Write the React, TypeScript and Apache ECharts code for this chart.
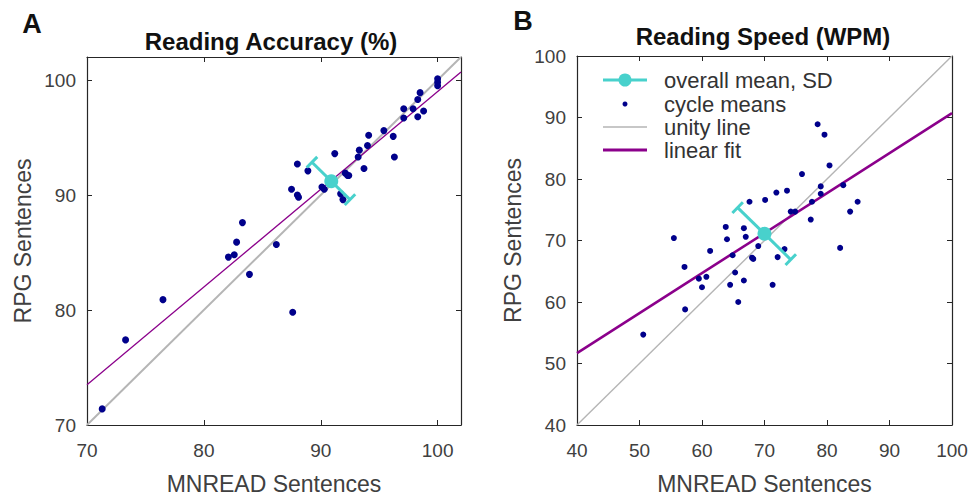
import React, { useEffect, useRef } from 'react';
import * as echarts from 'echarts';

// Panel A: Reading Accuracy (%)
const accMnread = [71.3, 73.3, 76.5, 82.1, 82.6, 82.8, 83.3, 83.9, 86.2, 87.6, 87.5, 88.0, 88.1, 88.0, 88.9, 90.1, 90.3, 91.2, 91.7, 91.9, 92.1, 92.3, 92.4, 93.3, 93.2, 93.7, 94.1, 94.0, 95.4, 96.2, 96.3, 97.1, 97.1, 97.9, 98.3, 98.3, 98.5, 98.8, 100.0, 100.0, 100.0];
const accRpg = [71.4, 77.4, 80.9, 84.6, 84.8, 85.9, 87.6, 83.1, 85.7, 79.8, 90.5, 90.0, 89.8, 92.7, 92.1, 90.7, 90.5, 93.6, 90.1, 89.6, 91.9, 91.7, 91.7, 93.9, 93.3, 92.3, 95.2, 94.3, 95.6, 95.1, 93.3, 97.5, 96.7, 97.5, 98.3, 96.8, 98.9, 97.3, 100.1, 99.8, 99.5];
const accMean = [90.9, 91.2];
const accSdEnds = [89.25, 92.85, 92.5, 89.6];
const accUnity = [[70, 70], [102, 102]];
const accFit = [[70, 73.5], [102, 100.7]];
const accTicks = [70, 80, 90, 100];

// Panel B: Reading Speed (WPM)
const spdMnread = [50.6, 55.5, 57.2, 57.3, 59.5, 60.0, 60.7, 61.3, 63.8, 64.0, 64.9, 65.3, 64.5, 65.8, 66.7, 67.0, 66.7, 67.6, 68.0, 68.2, 69.0, 70.1, 71.3, 71.9, 72.1, 73.2, 73.6, 74.2, 74.9, 76.0, 77.4, 77.6, 78.5, 79.0, 79.0, 79.6, 80.4, 82.1, 82.6, 83.7, 84.9];
const spdRpg = [54.7, 70.4, 65.7, 58.8, 63.8, 62.4, 64.1, 68.3, 72.2, 70.2, 67.6, 64.8, 62.8, 60.0, 72.0, 70.6, 63.5, 76.3, 67.2, 67.0, 69.1, 76.6, 62.8, 77.8, 67.3, 68.6, 78.1, 74.7, 74.7, 80.8, 73.4, 76.3, 88.9, 78.8, 77.6, 87.2, 82.2, 68.8, 79.0, 74.7, 76.3];
const spdMean = [70.0, 71.1];
const spdSdEnds = [65.7, 75.35, 74.2, 66.9];
const spdUnity = [[40, 40], [100, 100]];
const spdFit = [[40, 51.7], [100, 90.7]];
const spdTicks = [40, 50, 60, 70, 80, 90, 100];

const legendLabels = ['overall mean, SD', 'cycle means', 'unity line', 'linear fit'];

const NAVY = '#00008b';
const CYAN = '#48d1cc';
const GRAY = '#b5b5b5';
const PURPLE = '#8b008b';
const AXIS = '#262626';
const TXT = '#404040';
const FONT = '"Liberation Sans", Arial, Helvetica, sans-serif';

function zip(a: number[], b: number[]) {
  return a.map((v, i) => [v, b[i]]);
}

function errRender(params: any, api: any) {
  const p0 = api.coord([api.value(0), api.value(1)]);
  const p1 = api.coord([api.value(2), api.value(3)]);
  const dx = p1[0] - p0[0];
  const dy = p1[1] - p0[1];
  const len = Math.sqrt(dx * dx + dy * dy) || 1;
  const nx = -dy / len;
  const ny = dx / len;
  const h = 7.5;
  const style = { stroke: CYAN, lineWidth: 3, lineCap: 'butt' };
  return {
    type: 'group',
    children: [
      { type: 'line', shape: { x1: p0[0], y1: p0[1], x2: p1[0], y2: p1[1] }, style },
      { type: 'line', shape: { x1: p0[0] - nx * h, y1: p0[1] - ny * h, x2: p0[0] + nx * h, y2: p0[1] + ny * h }, style },
      { type: 'line', shape: { x1: p1[0] - nx * h, y1: p1[1] - ny * h, x2: p1[0] + nx * h, y2: p1[1] + ny * h }, style },
    ],
  };
}

function mkX(grid: number, min: number, max: number, ticks: number[], top: boolean, name?: string) {
  return {
    type: 'value',
    gridIndex: grid,
    position: top ? 'top' : 'bottom',
    min,
    max,
    interval: 10,
    name: name || '',
    nameLocation: 'middle',
    nameGap: 47,
    nameTextStyle: { fontFamily: FONT, fontSize: 23, color: TXT },
    axisLine: { show: true, onZero: false, lineStyle: { color: AXIS, width: 1.2 } },
    axisTick: { show: true, inside: true, length: 5, lineStyle: { color: AXIS, width: 1 } },
    axisLabel: {
      show: !top,
      margin: 16,
      fontFamily: FONT,
      fontSize: 19,
      color: TXT,
      formatter: (v: number) => (ticks.indexOf(v) >= 0 ? String(v) : ''),
    },
    splitLine: { show: false },
  };
}

function mkY(grid: number, min: number, max: number, ticks: number[], right: boolean, name?: string) {
  return {
    type: 'value',
    gridIndex: grid,
    position: right ? 'right' : 'left',
    min,
    max,
    interval: 10,
    name: name || '',
    nameLocation: 'middle',
    nameGap: 53,
    nameTextStyle: { fontFamily: FONT, fontSize: 23, color: TXT },
    axisLine: { show: true, onZero: false, lineStyle: { color: AXIS, width: 1.2 } },
    axisTick: { show: true, inside: true, length: 5, lineStyle: { color: AXIS, width: 1 } },
    axisLabel: {
      show: !right,
      margin: 11,
      fontFamily: FONT,
      fontSize: 19,
      color: TXT,
      formatter: (v: number) => (ticks.indexOf(v) >= 0 ? String(v) : ''),
    },
    splitLine: { show: false },
  };
}

function txt(text: string, x: number, y: number, size: number, bold: boolean, color: string, align = 'center') {
  return {
    type: 'text',
    x,
    y,
    style: {
      text,
      x: 0,
      y: 0,
      font: `${bold ? 'bold ' : ''}${size}px ${FONT}`,
      fill: color,
      align,
      textAlign: align,
      verticalAlign: 'middle',
      textVerticalAlign: 'middle',
    },
  };
}

export default function App() {
  const ref = useRef<HTMLDivElement>(null);
  useEffect(() => {
    if (!ref.current) return;
    const chart = echarts.init(ref.current, undefined, { renderer: 'svg' });
    const lx1 = 603;
    const lx2 = 647;
    const lmid = 625;
    const rows = [80, 104, 127, 150];
    chart.setOption({
      animation: false,
      backgroundColor: '#ffffff',
      grid: [
        { left: 87, top: 57, width: 374, height: 371 },
        { left: 577, top: 56, width: 375, height: 373 },
      ],
      xAxis: [
        mkX(0, 70, 102, accTicks, false, 'MNREAD Sentences'),
        mkX(0, 70, 102, accTicks, true),
        mkX(1, 40, 100, spdTicks, false, 'MNREAD Sentences'),
        mkX(1, 40, 100, spdTicks, true),
      ],
      yAxis: [
        mkY(0, 70, 102, accTicks, false, 'RPG Sentences'),
        mkY(0, 70, 102, accTicks, true),
        mkY(1, 40, 100, spdTicks, false, 'RPG Sentences'),
        mkY(1, 40, 100, spdTicks, true),
      ],
      series: [
        // Panel A
        { type: 'line', xAxisIndex: 0, yAxisIndex: 0, data: accUnity, symbol: 'none', lineStyle: { color: GRAY, width: 2 }, z: 1 },
        { type: 'line', xAxisIndex: 0, yAxisIndex: 0, data: accFit, symbol: 'none', lineStyle: { color: PURPLE, width: 1.3 }, z: 2 },
        { type: 'scatter', xAxisIndex: 0, yAxisIndex: 0, data: zip(accMnread, accRpg), symbol: 'circle', symbolSize: 7, itemStyle: { color: NAVY, opacity: 1 }, z: 3 },
        { type: 'custom', xAxisIndex: 0, yAxisIndex: 0, data: [accSdEnds], renderItem: errRender, encode: { x: [0, 2], y: [1, 3] }, z: 4 },
        { type: 'scatter', xAxisIndex: 0, yAxisIndex: 0, data: [accMean], symbol: 'circle', symbolSize: 14, itemStyle: { color: CYAN, opacity: 1 }, z: 5 },
        // Panel B
        { type: 'line', xAxisIndex: 2, yAxisIndex: 2, data: spdUnity, symbol: 'none', lineStyle: { color: GRAY, width: 1.4 }, z: 1 },
        { type: 'line', xAxisIndex: 2, yAxisIndex: 2, data: spdFit, symbol: 'none', lineStyle: { color: PURPLE, width: 2.6 }, z: 2 },
        { type: 'scatter', xAxisIndex: 2, yAxisIndex: 2, data: zip(spdMnread, spdRpg), symbol: 'circle', symbolSize: 6, itemStyle: { color: NAVY, opacity: 1 }, z: 3 },
        { type: 'custom', xAxisIndex: 2, yAxisIndex: 2, data: [spdSdEnds], renderItem: errRender, encode: { x: [0, 2], y: [1, 3] }, z: 4 },
        { type: 'scatter', xAxisIndex: 2, yAxisIndex: 2, data: [spdMean], symbol: 'circle', symbolSize: 14, itemStyle: { color: CYAN, opacity: 1 }, z: 5 },
      ],
      graphic: [
        txt('A', 32, 24, 27, true, '#111111'),
        txt('B', 523, 21, 27, true, '#111111'),
        txt('Reading Accuracy (%)', 271, 41, 24, true, '#111111'),
        txt('Reading Speed (WPM)', 763, 36, 24, true, '#111111'),
        // legend
        { type: 'line', shape: { x1: lx1, y1: rows[0], x2: lx2, y2: rows[0] }, style: { stroke: CYAN, lineWidth: 3 } },
        { type: 'circle', shape: { cx: lmid, cy: rows[0], r: 6.5 }, style: { fill: CYAN } },
        { type: 'circle', shape: { cx: lmid, cy: rows[1], r: 2.5 }, style: { fill: NAVY } },
        { type: 'line', shape: { x1: lx1, y1: rows[2], x2: lx2, y2: rows[2] }, style: { stroke: GRAY, lineWidth: 1.5 } },
        { type: 'line', shape: { x1: lx1, y1: rows[3], x2: lx2, y2: rows[3] }, style: { stroke: PURPLE, lineWidth: 3 } },
        ...legendLabels.map((l, i) => txt(l, 664, rows[i], 22, false, '#333333', 'left')),
      ],
    });
    return () => chart.dispose();
  }, []);
  return <div ref={ref} style={{ position: 'fixed', left: 0, top: 0, width: 975, height: 500 }} />;
}
